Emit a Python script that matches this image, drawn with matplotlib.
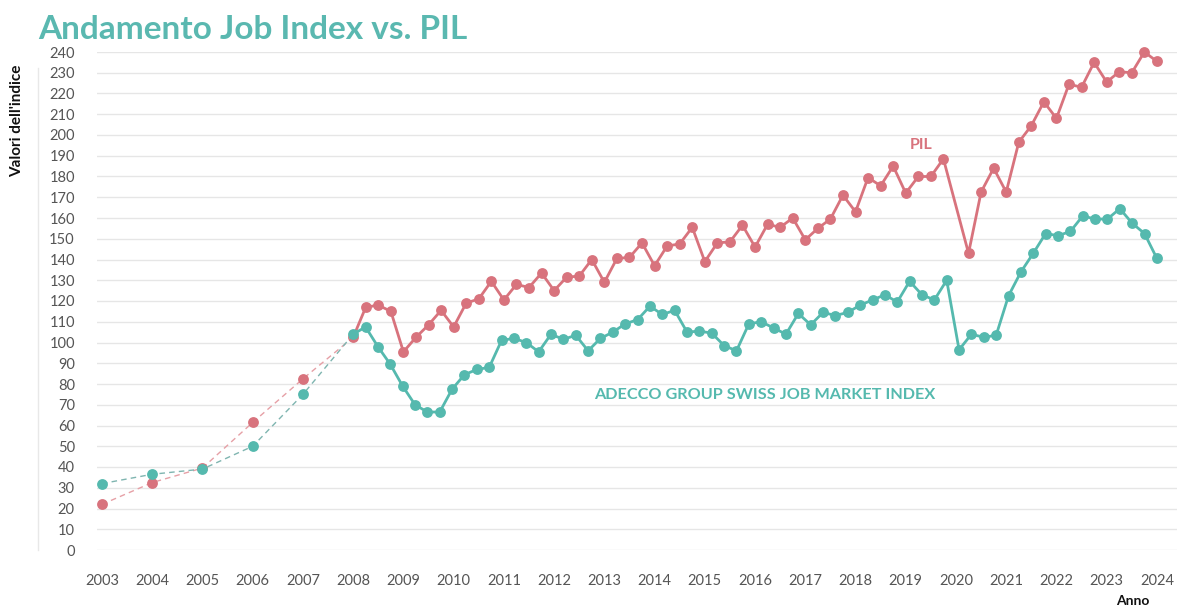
import matplotlib
matplotlib.use("Agg")
import matplotlib.pyplot as plt
from matplotlib.lines import Line2D
import numpy as np

# annual points 2003-2007 (dashed part), then quarterly from 2008 onward
years = [2003, 2004, 2005, 2006, 2007]
job_annual = [32, 36.5, 39, 50, 75]
pil_annual = [22, 32.5, 39.5, 61.5, 82.5]

job_quarterly = [
    104, 107.5, 98, 89.5, 79, 70, 66.5, 66.5, 77.5, 84.5, 87, 88,
    101, 102, 100, 95.5, 104, 101.5, 103.5, 96, 102, 105, 109, 111,
    117.5, 113.5, 115.5, 105, 105.5, 104.5, 98.5, 96, 109, 110, 107, 104,
    114, 108.5, 114.5, 113, 114.5, 118, 120.5, 123, 119.5, 129.5, 123, 120.5,
    130, 96.5, 104, 102.5, 103.5, 122.5, 134, 143, 152.5, 151.5, 153.5, 161,
    159.5, 159.5, 164.5, 157.5, 152.5, 140.5,
]
# one quarter missing in the PIL series (2020)
pil_quarterly = [
    102.5, 117, 118, 115, 95.5, 102.5, 108.5, 115.5, 107.5, 119, 121, 129.5,
    120.5, 128, 126.5, 133.5, 125, 131.5, 132, 140, 129, 140.5, 141, 148,
    137, 146.5, 147.5, 155.5, 139, 148, 148.5, 156.5, 146, 157, 155.5, 160,
    149.5, 155, 159.5, 171, 163, 179.5, 175.5, 185, 172, 180, 180, 188.5,
    np.nan, 143, 172.5, 184, 172.5, 196.5, 204.5, 216, 208, 224.5, 223, 235,
    225.5, 230.5, 230, 240, 235.5,
]

tick_years = list(range(2003, 2025))
y_ticks = list(range(0, 250, 10))

TEAL = "#55b9ae"
PINK = "#d8737d"
TEAL_DASH = "#7fb5b0"
PINK_DASH = "#e6a0a6"

plt.rcParams["font.family"] = ["Lato", "DejaVu Sans"]

fig = plt.figure(figsize=(11.77, 6.10), dpi=100)
ax = fig.add_axes([97 / 1177, 1 - 550 / 610, 1 - 97 / 1177, (550 - 52) / 610])


def draw_series(annual, quarterly, color, dash_color, z):
    q = np.asarray(quarterly, dtype=float)
    qx = np.linspace(2008, 2024, len(q))
    ok = ~np.isnan(q)
    dx = years + [2008]
    dy = annual + [q[0]]
    ax.plot(dx, dy, color=dash_color, lw=1.0, ls=(0, (4, 3)), zorder=z, clip_on=False)
    ax.plot(years, annual, "o", color=color, ms=7.8, mec="none", zorder=z + 0.5, clip_on=False)
    ax.plot(qx[ok], q[ok], "-o", color=color, lw=2.0, ms=7.8, mec="none",
            zorder=z + 0.5, clip_on=False)


draw_series(pil_annual, pil_quarterly, PINK, PINK_DASH, 3)
draw_series(job_annual, job_quarterly, TEAL, TEAL_DASH, 4)

ax.set_xlim(2002.9, 2024.4)
ax.set_ylim(0, 240)
ax.set_yticks(y_ticks)
ax.set_xticks(tick_years)
ax.set_xticklabels([str(y) for y in tick_years])
ax.grid(axis="y", color="#e6e6e6", lw=1.0)
ax.set_axisbelow(True)
for s in ax.spines.values():
    s.set_visible(False)
ax.tick_params(axis="both", length=0, labelsize=10.5, labelcolor="#555555")
ax.tick_params(axis="y", pad=16)
ax.tick_params(axis="x", pad=17)

ax.text(2019.3, 195, "PIL", color=PINK, fontsize=11.5, fontweight="bold",
        ha="center", va="center")
ax.text(2016.2, 74.8, "ADECCO GROUP SWISS JOB MARKET INDEX", color=TEAL,
        fontsize=11.7, fontweight="bold", ha="center", va="center")

fig.text(38 / 1177, 1 - 39 / 610, "Andamento Job Index vs. PIL", color="#5ab8b0",
         fontsize=24, fontweight="bold", ha="left", va="baseline")
fig.text(17 / 1177, 1 - 121 / 610, "Valori dell'indice", rotation=90, fontsize=11,
         fontweight="bold", color="#111111", ha="center", va="center")
fig.text(1133 / 1177, 1 - 601 / 610, "Anno", fontsize=10, fontweight="bold",
         color="#111111", ha="center", va="center")
fig.add_artist(Line2D([38 / 1177, 38 / 1177], [1 - 550 / 610, 1 - 68 / 610],
                      color="#e8e8e8", lw=1.0))

fig.savefig("out.png", dpi=100)
